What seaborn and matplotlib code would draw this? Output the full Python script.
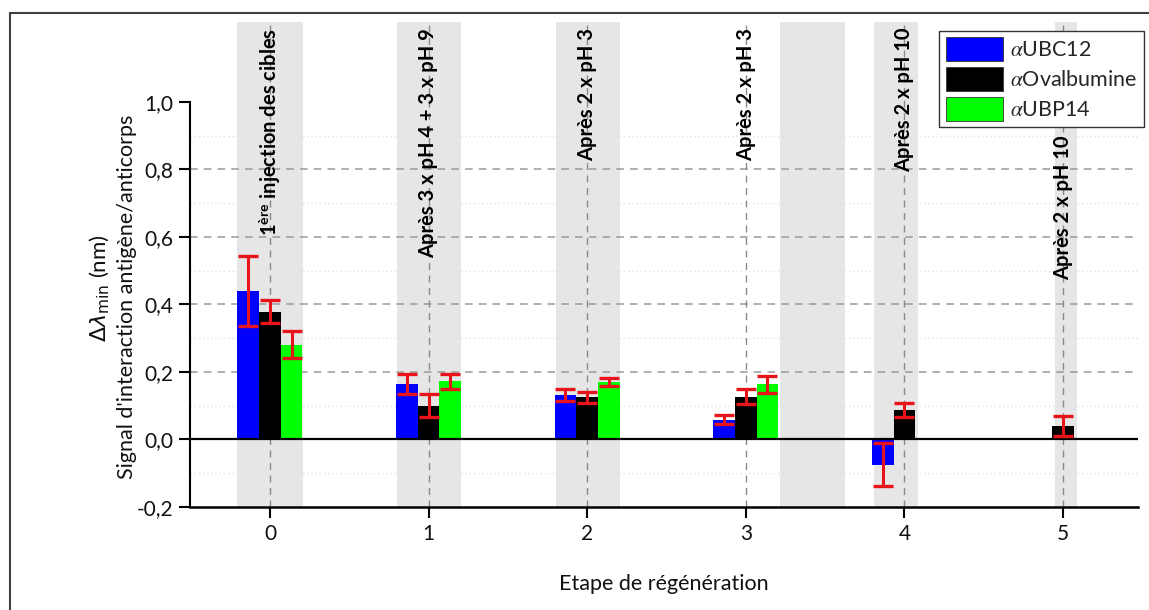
import numpy as np
import pandas as pd
import matplotlib
matplotlib.use("Agg")
import matplotlib.pyplot as plt
import matplotlib.transforms as mtransforms
from matplotlib.patches import Patch, Rectangle
from matplotlib.container import BarContainer
from matplotlib.font_manager import FontProperties
import seaborn as sns

# ---------------- data ----------------
steps = [0, 1, 2, 3, 4, 5]
series_names = ["UBC12", "Ovalbumine", "UBP14"]
series_colors = ["#0000ff", "#000000", "#00ff00"]

ubc12 = [0.44, 0.165, 0.131, 0.059, -0.075, np.nan]
ubc12_err = [0.105, 0.030, 0.018, 0.013, 0.064, np.nan]
ovalbumine = [0.379, 0.100, 0.125, 0.127, 0.088, 0.040]
ovalbumine_err = [0.033, 0.034, 0.016, 0.022, 0.021, 0.030]
ubp14 = [0.280, 0.172, 0.170, 0.163, np.nan, np.nan]
ubp14_err = [0.040, 0.022, 0.012, 0.025, np.nan, np.nan]

ytick_vals = [-0.2, 0.0, 0.2, 0.4, 0.6, 0.8, 1.0]
ytick_labels = ["-0,2", "0,0", "0,2", "0,4", "0,6", "0,8", "1,0"]
yminor_vals = [-0.1, 0.1, 0.3, 0.5, 0.7, 0.9]
ygrid_major = [0.2, 0.4, 0.6, 0.8]
xtick_labels = ["0", "1", "2", "3", "4", "5"]

annotations = [
    r"1$^{\mathbf{ère}}$ injection des cibles",
    "Après 3 x pH 4 + 3 x pH 9",
    "Après 2 x pH 3",
    "Après 2 x pH 3",
    "Après 2 x pH 10",
    "Après 2 x pH 10",
]
shaded_bands = [(-0.208, 0.208), (0.80, 1.204), (1.803, 2.207),
                (3.216, 3.625), (3.808, 4.086), (4.95, 5.088)]

# ---------------- style ----------------
sns.set_theme(style="white")
plt.rcParams["font.family"] = ["Lato", "DejaVu Sans"]
plt.rcParams["mathtext.fontset"] = "custom"
plt.rcParams["mathtext.rm"] = "Lato"
plt.rcParams["mathtext.it"] = "Lato:italic"
plt.rcParams["mathtext.bf"] = "Lato:bold"

W, H = 1149, 610
fig = plt.figure(figsize=(W / 100, H / 100), dpi=100)
fig.patch.set_facecolor("white")
ax = fig.add_axes([190 / W, 1 - 507 / H, (1138 - 190) / W, (507 - 22) / H])

df = pd.DataFrame({
    "step": np.repeat(steps, 3),
    "antibody": series_names * len(steps),
    "value": np.ravel(np.column_stack([ubc12, ovalbumine, ubp14])),
})
errs = [ubc12_err, ovalbumine_err, ubp14_err]

sns.barplot(data=df, x="step", y="value", hue="antibody", hue_order=series_names,
            palette=series_colors, width=0.41, errorbar=None, saturation=1,
            legend=False, ax=ax, linewidth=0, zorder=3)

# error bars
bar_containers = [c for c in ax.containers if isinstance(c, BarContainer)]
for i, cont in enumerate(bar_containers):
    for bar in cont.patches:
        h = bar.get_height()
        if h is None or np.isnan(h):
            continue
        cx = bar.get_x() + bar.get_width() / 2
        g = int(round(cx))
        e = errs[i][g]
        if np.isnan(e):
            continue
        ax.errorbar(cx, h, yerr=e, fmt="none", ecolor="#e8141c", elinewidth=2.2,
                    capsize=7, capthick=2.4, zorder=5)

ax.set_xlim(-0.504, 5.473)
ax.set_ylim(-0.2, 1.237)

# background bands and grid
for a, b in shaded_bands:
    ax.axvspan(a, b, color="#e6e6e6", lw=0, zorder=0)
for y in ygrid_major:
    ax.axhline(y, color="#9a9a9a", ls=(0, (5, 4)), lw=1.1, zorder=1)
for y in yminor_vals:
    ax.axhline(y, color="#e2e2e2", ls=(0, (1, 2)), lw=1.0, zorder=1)
for x in steps:
    ax.axvline(x, color="#8a8a8a", ls=(0, (5, 4)), lw=1.0, zorder=1)
ax.axhline(0, color="black", lw=1.6, zorder=4)

# annotations
trans = mtransforms.blended_transform_factory(ax.transData, ax.transAxes)
tops = [0.988, 0.988, 0.988, 0.988, 0.988, 0.767]
for x, s, t in zip(steps, annotations, tops):
    ax.text(x, t, s, rotation=90, ha="center", va="top", fontsize=14.5,
            fontweight="bold", transform=trans, zorder=6, color="black")

# axes styling
ax.set_yticks(ytick_vals)
ax.set_yticklabels(ytick_labels)
ax.set_yticks(yminor_vals, minor=True)
ax.set_xticks(steps)
ax.set_xticklabels(xtick_labels)
ax.tick_params(axis="both", which="major", direction="out", length=8, width=1.5,
               labelsize=15, color="black", labelcolor="#111111", pad=4)
ax.tick_params(axis="y", which="minor", direction="out", length=4, width=1.2, color="black")
ax.tick_params(axis="y", left=True)
ax.tick_params(axis="x", bottom=True)
for sp in ["top", "right"]:
    ax.spines[sp].set_visible(False)
ax.spines["left"].set_bounds(-0.2, 1.0)
ax.spines["left"].set_linewidth(1.5)
ax.spines["left"].set_color("black")
ax.spines["bottom"].set_linewidth(1.8)
ax.spines["bottom"].set_color("black")
ax.set_ylabel("")
ax.set_xlabel("Etape de régénération", fontsize=15.5, labelpad=22, color="#111111")

# y labels
fig.text(100 / W, 1 - 288 / H, r"$\Delta\lambda_{\mathrm{min}}$ (nm)", rotation=90,
         ha="center", va="center", fontsize=16, math_fontfamily="dejavusans", color="#111111")
fig.text(127 / W, 1 - 297 / H, "Signal d'interaction antigène/anticorps", rotation=90,
         ha="center", va="center", fontsize=15.5, color="#111111")

# legend
handles = [Patch(facecolor=c, edgecolor="#333333", lw=0.6) for c in series_colors]
labels = [r"$\alpha$" + n for n in series_names]
leg = fig.legend(handles, labels, loc="upper right", bbox_to_anchor=(1144 / W, 1 - 31 / H),
                 frameon=True, fancybox=False, edgecolor="#333333", framealpha=1,
                 handlelength=2.65, handleheight=1.3, labelspacing=0.3,
                 handletextpad=0.35, borderpad=0.3, borderaxespad=0,
                 prop=FontProperties(family="Lato", size=15.5, math_fontfamily="stix"))
leg.get_frame().set_linewidth(1.0)
leg.set_zorder(10)

# figure border
fig.patches.append(Rectangle((10 / W, -0.05), 1.2, 1.05 - 13 / H, transform=fig.transFigure,
                             fill=False, edgecolor="#404040", lw=1.5))

fig.savefig("out.png", dpi=100)
